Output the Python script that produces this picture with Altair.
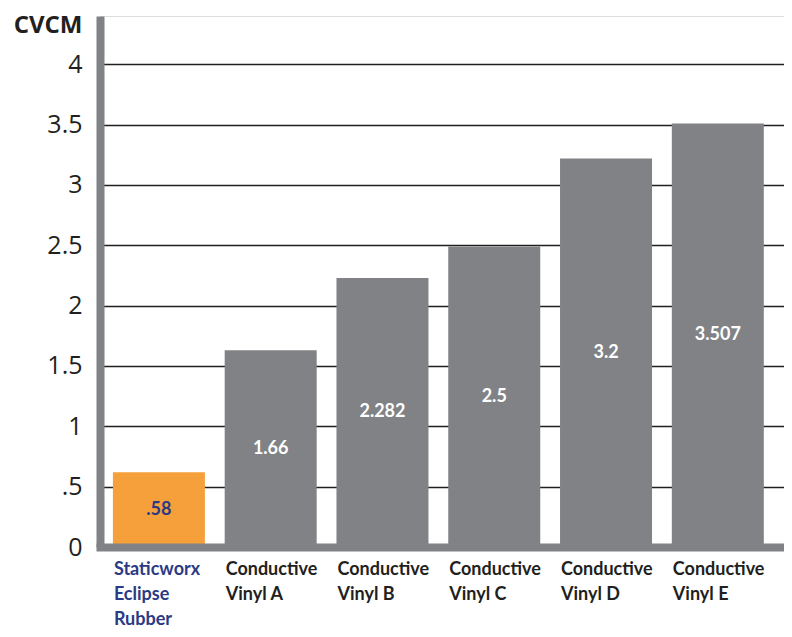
import json
import altair as alt
import pandas as pd

categories = [
    "Staticworx\nEclipse\nRubber",
    "Conductive\nVinyl A",
    "Conductive\nVinyl B",
    "Conductive\nVinyl C",
    "Conductive\nVinyl D",
    "Conductive\nVinyl E",
]
bar_heights = [0.62, 1.63, 2.23, 2.49, 3.22, 3.51]
bar_labels = [".58", "1.66", "2.282", "2.5", "3.2", "3.507"]
y_ticks = [0, 0.5, 1, 1.5, 2, 2.5, 3, 3.5, 4]
y_tick_labels = ["0", ".5", "1", "1.5", "2", "2.5", "3", "3.5", "4"]
y_title = "CVCM"

ORANGE = "#f6a03b"
GRAY = "#808285"
BLUE = "#2b3a83"
DARK = "#231f20"
NARROW = "Lato, sans-serif"
REG = "Open Sans, sans-serif"

df = pd.DataFrame({
    "cat": categories,
    "val": bar_heights,
    "label": bar_labels,
    "half": [v / 2 for v in bar_heights],
    "highlight": [i == 0 for i in range(len(categories))],
})

label_map = json.dumps({str(float(v)) if v != int(v) else str(int(v)): l for v, l in zip(y_ticks, y_tick_labels)})
y_label_expr = f"{label_map}[''+datum.value]"

x_enc = alt.X(
    "cat:N",
    sort=None,
    scale=alt.Scale(paddingInner=0.177, paddingOuter=0.148, align=0.39),
    axis=alt.Axis(
        title=None,
        ticks=False,
        labelAlign="left",
        labelBaseline="top",
        labelPadding=13,
        labelOffset=-45,
        labelAngle=0,
        labelFont=NARROW,
        labelFontWeight="bold",
        labelFontSize=18,
        labelLineHeight=25,
        labelLimit=0,
        labelOverlap=False,
        labelFlush=False,
        labelExpr="split(datum.label, '\\n')",
        labelColor={"condition": {"test": f"datum.value == {json.dumps(categories[0])}", "value": BLUE}, "value": DARK},
        domainColor=GRAY,
        domainWidth=8,
        domainCap="square",
        zindex=1,
    ),
)

y_scale = alt.Scale(domain=[0, 4.4], nice=False, zero=True)

bars = alt.Chart(df).mark_bar().encode(
    x=x_enc,
    y=alt.Y(
        "val:Q",
        scale=y_scale,
        axis=alt.Axis(
            values=y_ticks,
            labelExpr=y_label_expr,
            ticks=False,
            labelPadding=18,
            labelFont=REG,
            labelFontSize=25,
            labelColor=DARK,
            domainColor=GRAY,
            domainWidth=8,
            grid=True,
            gridColor=DARK,
            gridWidth=1.6,
            title=y_title,
            titleAngle=0,
            titleAlign="right",
            titleBaseline="top",
            titleX=-18,
            titleY=-3,
            titleFont=REG,
            titleFontSize=24,
            titleFontWeight="bold",
            titleColor=DARK,
        ),
    ),
    color=alt.condition(alt.datum.highlight, alt.value(ORANGE), alt.value(GRAY)),
)

texts = alt.Chart(df).mark_text(
    font=NARROW, fontWeight="bold", fontSize=18, baseline="middle", align="center"
).encode(
    x=alt.X("cat:N", sort=None),
    y=alt.Y("half:Q", scale=y_scale),
    text="label:N",
    color=alt.condition(alt.datum.highlight, alt.value(BLUE), alt.value("white")),
)

chart = alt.layer(bars, texts).properties(
    width=684,
    height=531,
    autosize=alt.AutoSizeParams(type="none"),
    padding={"left": 92, "top": 8, "right": 0, "bottom": 90},
).configure_view(stroke=None).configure(background="white")

chart.save("out.html", embed_options={"renderer": "svg", "actions": False})
